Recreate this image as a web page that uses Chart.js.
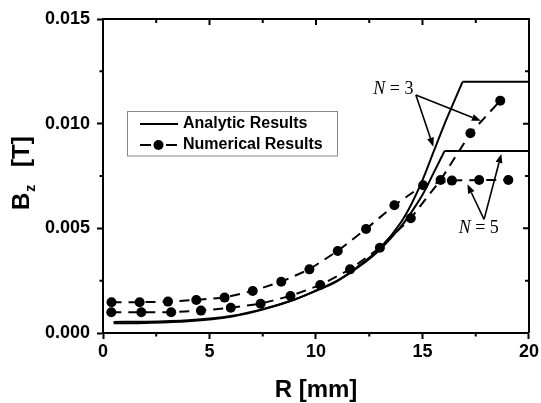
<!DOCTYPE html>
<html><head><meta charset="utf-8">
<script src="https://cdn.jsdelivr.net/npm/chart.js@4.4.1/dist/chart.umd.min.js"></script>
<style>html,body{margin:0;padding:0;background:#fff;}#wrap{width:541px;height:403px;}</style>
</head><body><div id="wrap"><canvas id="c" width="541" height="403"></canvas></div>
<script>
// ---- data ----
const xMajorTicks = [0, 5, 10, 15, 20];
const xMinorTicks = [2.5, 7.5, 12.5, 17.5];
const yMajorTicks = [0.000, 0.005, 0.010, 0.015];
const yMinorTicks = [0.0025, 0.0075, 0.0125];

const rAnalyticN3 = [0.5, 2, 4, 6, 7.5, 9, 10, 11, 12, 13, 14, 14.5, 15, 15.5, 16, 16.5, 16.88];
const bAnalyticN3 = [0.00046, 0.00048, 0.00056, 0.00078, 0.00112, 0.0016, 0.00203, 0.0025, 0.0032, 0.00405, 0.0053, 0.0062, 0.0073, 0.0086, 0.0099, 0.0111, 0.0120];
const rPlateauN3 = [16.88, 20];
const bPlateauN3 = [0.0120, 0.0120];

const rAnalyticN5 = [0.5, 2, 4, 6, 7.5, 9, 10, 11, 12, 13, 14, 14.5, 15, 15.5, 16.04];
const bAnalyticN5 = [0.00053, 0.00054, 0.00061, 0.00081, 0.00114, 0.0016, 0.00201, 0.00248, 0.00315, 0.00398, 0.0051, 0.0058, 0.0066, 0.0076, 0.0087];
const rPlateauN5 = [16.04, 20];
const bPlateauN5 = [0.0087, 0.0087];

const rNumericalN3 = [0.39, 1.8, 3.2, 4.6, 6.0, 7.4, 8.8, 10.2, 11.6, 13.0, 14.45, 15.85, 17.25, 18.65];
const bNumericalN3 = [0.00099, 0.00099, 0.00099, 0.00107, 0.00121, 0.0014, 0.00177, 0.00229, 0.00304, 0.00407, 0.00548, 0.00731, 0.00954, 0.0111];

const rNumericalN5 = [0.4, 1.72, 3.05, 4.38, 5.71, 7.03, 8.37, 9.69, 11.02, 12.35, 13.68, 15.03, 16.38, 17.66, 19.03];
const bNumericalN5 = [0.00147, 0.00147, 0.0015, 0.00158, 0.00169, 0.00201, 0.00245, 0.00304, 0.00392, 0.00497, 0.0061, 0.00706, 0.00728, 0.00731, 0.00731];

const legendLabels = ['Analytic Results', 'Numerical Results'];
const xTitle = 'R [mm]';

function pts(xs, ys) { return xs.map((x, i) => ({ x: x, y: ys[i] })); }

// ---- styles / layout ----
const FONT = "'Liberation Sans', Arial, sans-serif";
const SERIF = "'Liberation Serif', 'Times New Roman', serif";
Chart.defaults.font.family = FONT;
Chart.defaults.color = '#000';

const annotations = [
  { label: ['N', ' = 3'], at: [13.63, 0.01166], from: [14.69, 0.01137], to: [[15.51, 0.0089], [17.74, 0.01014]] },
  { label: ['N', ' = 5'], at: [17.64, 0.00502], from: [17.89, 0.00543], to: [[17.11, 0.0071], [18.70, 0.00855]] }
];

function arrow(ctx, x0, y0, x1, y1) {
  const ang = Math.atan2(y1 - y0, x1 - x0), L = 9, W = 3.5;
  const bx = x1 - L * Math.cos(ang), by = y1 - L * Math.sin(ang);
  ctx.beginPath(); ctx.moveTo(x0, y0); ctx.lineTo(bx, by); ctx.stroke();
  ctx.beginPath();
  ctx.moveTo(x1, y1);
  ctx.lineTo(bx + W * Math.sin(ang), by - W * Math.cos(ang));
  ctx.lineTo(bx - W * Math.sin(ang), by + W * Math.cos(ang));
  ctx.closePath(); ctx.fill();
}

const decor = {
  id: 'decor',
  afterDraw(chart) {
    const { ctx, chartArea: a, scales: { x, y } } = chart;
    ctx.save();
    ctx.strokeStyle = '#000'; ctx.fillStyle = '#000'; ctx.lineWidth = 2;
    // top & right frame
    ctx.beginPath(); ctx.moveTo(a.left, a.top); ctx.lineTo(a.right, a.top); ctx.lineTo(a.right, a.bottom); ctx.stroke();
    ctx.beginPath();
    xMajorTicks.forEach(v => { const px = x.getPixelForValue(v); ctx.moveTo(px, a.top); ctx.lineTo(px, a.top + 6); });
    xMinorTicks.forEach(v => { const px = x.getPixelForValue(v); ctx.moveTo(px, a.top); ctx.lineTo(px, a.top + 4);
      ctx.moveTo(px, a.bottom); ctx.lineTo(px, a.bottom + 3.5); });
    yMajorTicks.forEach(v => { const py = y.getPixelForValue(v); ctx.moveTo(a.right, py); ctx.lineTo(a.right - 6, py); });
    yMinorTicks.forEach(v => { const py = y.getPixelForValue(v); ctx.moveTo(a.right, py); ctx.lineTo(a.right - 4, py);
      ctx.moveTo(a.left, py); ctx.lineTo(a.left - 3.5, py); });
    ctx.stroke();

    // legend
    ctx.lineWidth = 1; ctx.strokeStyle = '#8a8a8a';
    ctx.strokeRect(127.5, 111.5, 210, 44.5);
    ctx.strokeStyle = '#000'; ctx.lineWidth = 2;
    ctx.beginPath(); ctx.moveTo(140, 124); ctx.lineTo(178, 124); ctx.stroke();
    ctx.beginPath(); ctx.moveTo(140, 145); ctx.lineTo(151, 145); ctx.moveTo(166, 145); ctx.lineTo(177, 145); ctx.stroke();
    ctx.beginPath(); ctx.arc(158.5, 145, 5, 0, Math.PI * 2); ctx.fill();
    ctx.font = 'bold 16px ' + FONT; ctx.textBaseline = 'middle'; ctx.textAlign = 'left';
    ctx.fillText(legendLabels[0], 183, 124);
    ctx.fillText(legendLabels[1], 183, 145);

    // annotations
    ctx.lineWidth = 1.6;
    annotations.forEach(an => {
      const cx = x.getPixelForValue(an.at[0]), cy = y.getPixelForValue(an.at[1]);
      ctx.font = 'italic 18px ' + SERIF; const w1 = ctx.measureText(an.label[0]).width;
      ctx.font = '18px ' + SERIF; const w2 = ctx.measureText(an.label[1]).width;
      let sx = cx - (w1 + w2) / 2;
      ctx.textBaseline = 'middle';
      ctx.font = 'italic 18px ' + SERIF; ctx.fillText(an.label[0], sx, cy);
      ctx.font = '18px ' + SERIF; ctx.fillText(an.label[1], sx + w1, cy);
      const fx = x.getPixelForValue(an.from[0]), fy = y.getPixelForValue(an.from[1]);
      an.to.forEach(t => arrow(ctx, fx, fy, x.getPixelForValue(t[0]), y.getPixelForValue(t[1])));
    });

    // axis titles
    ctx.font = 'bold 24px ' + FONT; ctx.textAlign = 'center'; ctx.textBaseline = 'alphabetic';
    ctx.fillText(xTitle, (a.left + a.right) / 2, 397);
    ctx.save();
    ctx.translate(20, 174); ctx.rotate(-Math.PI / 2);
    ctx.textAlign = 'left';
    ctx.font = 'bold 24px ' + FONT;
    const wB = ctx.measureText('B').width;
    ctx.fillText('B', -36, 8.5);
    ctx.font = 'bold 14px ' + FONT;
    ctx.fillText('z', -36 + wB + 1, 14.5);
    ctx.font = 'bold 24px ' + FONT;
    ctx.fillText('[T]', 7, 8.5);
    ctx.restore();
    ctx.restore();
  }
};

const lineStyle = { borderColor: '#000', borderWidth: 2, pointRadius: 0, showLine: true, fill: false };
const numStyle = { borderColor: '#000', backgroundColor: '#000', borderWidth: 2, pointRadius: 5, pointBorderWidth: 0,
  pointBackgroundColor: '#000', showLine: true, borderDash: [10, 7], fill: false };

new Chart(document.getElementById('c'), {
  type: 'scatter',
  data: {
    datasets: [
      Object.assign({ label: legendLabels[0] + ' N=3', data: pts(rAnalyticN3, bAnalyticN3), cubicInterpolationMode: 'monotone' }, lineStyle),
      Object.assign({ label: 'plateau N=3', data: pts(rPlateauN3, bPlateauN3) }, lineStyle),
      Object.assign({ label: legendLabels[0] + ' N=5', data: pts(rAnalyticN5, bAnalyticN5), cubicInterpolationMode: 'monotone' }, lineStyle),
      Object.assign({ label: 'plateau N=5', data: pts(rPlateauN5, bPlateauN5) }, lineStyle),
      Object.assign({ label: legendLabels[1] + ' N=3', data: pts(rNumericalN3, bNumericalN3) }, numStyle),
      Object.assign({ label: legendLabels[1] + ' N=5', data: pts(rNumericalN5, bNumericalN5) }, numStyle)
    ]
  },
  options: {
    responsive: false, animation: false, devicePixelRatio: 1,
    layout: { padding: { top: 19, right: 11, left: 0, bottom: 0 } },
    plugins: { legend: { display: false }, tooltip: { enabled: false } },
    scales: {
      x: {
        type: 'linear', min: 0, max: 20,
        afterFit: s => { s.height = 70; },
        afterBuildTicks: s => { s.ticks = xMajorTicks.map(v => ({ value: v })); },
        ticks: { font: { size: 18, weight: 'bold' }, padding: 2, maxRotation: 0, callback: v => String(v) },
        grid: { drawOnChartArea: false, drawTicks: true, tickLength: 6, tickWidth: 2, tickColor: '#000' },
        border: { display: true, color: '#000', width: 2 }
      },
      y: {
        type: 'linear', min: 0, max: 0.015,
        afterFit: s => { s.width = 103; },
        afterBuildTicks: s => { s.ticks = yMajorTicks.map(v => ({ value: v })); },
        ticks: { font: { size: 18, weight: 'bold' }, padding: 7, callback: v => Number(v).toFixed(3) },
        grid: { drawOnChartArea: false, drawTicks: true, tickLength: 6, tickWidth: 2, tickColor: '#000' },
        border: { display: true, color: '#000', width: 2 }
      }
    }
  },
  plugins: [decor]
});
</script></body></html>
